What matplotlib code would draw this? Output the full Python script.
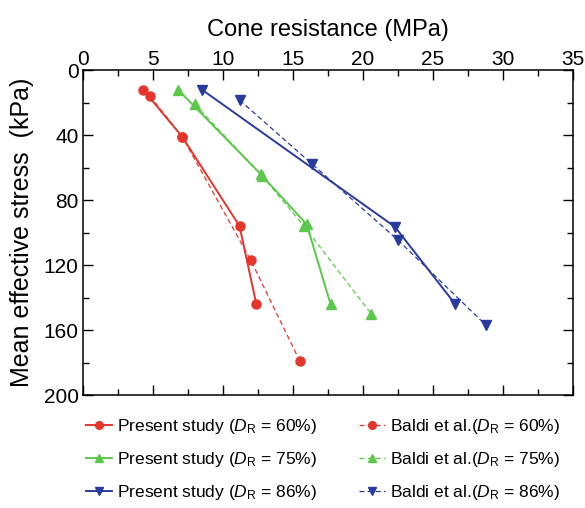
import matplotlib.pyplot as plt
from matplotlib.ticker import MultipleLocator

plt.rcParams['font.family'] = ['Liberation Sans', 'DejaVu Sans']
plt.rcParams['mathtext.fontset'] = 'custom'
plt.rcParams['mathtext.rm'] = 'Liberation Sans'
plt.rcParams['mathtext.it'] = 'Liberation Sans:italic'

# Present study (solid lines)
present_60_q = [4.3, 7.1, 11.2, 12.4]
present_60_p = [12, 41, 96, 144]
present_75_q = [6.8, 12.7, 16.0, 17.7]
present_75_p = [12, 64, 95, 144]
present_86_q = [8.5, 22.3, 26.6]
present_86_p = [12, 96.5, 144]

# Baldi et al. (dashed lines)
baldi_60_q = [4.8, 7.1, 12.0, 15.5]
baldi_60_p = [16, 41, 117, 179]
baldi_75_q = [8.0, 12.8, 15.8, 20.6]
baldi_75_p = [21, 65, 96, 150]
baldi_86_q = [11.2, 16.4, 22.5, 28.8]
baldi_86_p = [18.5, 58, 104.5, 157]

red = '#e5352b'
green = '#5cc84a'
blue = '#2a3b9e'

fig = plt.figure(figsize=(5.85, 5.08), dpi=100)
ax = fig.add_axes([0.1414, 0.2224, 0.8376, 0.6398])

def lab(name, dr):
    return name + r'($\it{D}_{\rm R}$ = ' + dr + '%)'

h1, = ax.plot(present_60_q, present_60_p, '-o', color=red, lw=1.4, ms=6.5,
              label=lab('Present study ', '60'))
h2, = ax.plot(present_75_q, present_75_p, '-^', color=green, lw=1.4, ms=7.5,
              label=lab('Present study ', '75'))
h3, = ax.plot(present_86_q, present_86_p, '-v', color=blue, lw=1.4, ms=7.5,
              label=lab('Present study ', '86'))
h4, = ax.plot(baldi_60_q, baldi_60_p, '--o', color=red, lw=0.9, ms=6.5,
              dashes=(4, 2.5), label=lab('Baldi et al.', '60'))
h5, = ax.plot(baldi_75_q, baldi_75_p, '--^', color=green, lw=0.9, ms=7.5,
              dashes=(4, 2.5), label=lab('Baldi et al.', '75'))
h6, = ax.plot(baldi_86_q, baldi_86_p, '--v', color=blue, lw=0.9, ms=7.5,
              dashes=(4, 2.5), label=lab('Baldi et al.', '86'))

ax.set_xlim(0, 35)
ax.set_ylim(200, 0)
ax.xaxis.set_major_locator(MultipleLocator(5))
ax.xaxis.set_minor_locator(MultipleLocator(2.5))
ax.yaxis.set_major_locator(MultipleLocator(40))
ax.yaxis.set_minor_locator(MultipleLocator(20))
ax.tick_params(which='both', direction='in', top=True, right=True,
               labeltop=True, labelbottom=False, labelsize=15, width=1)
ax.tick_params(which='major', length=7)
ax.tick_params(which='minor', length=4)
ax.tick_params(axis='x', which='major', pad=1)
ax.tick_params(axis='y', which='major', pad=3)
for s in ax.spines.values():
    s.set_linewidth(1.1)

ax.xaxis.set_label_position('top')
ax.set_xlabel('Cone resistance (MPa)', fontsize=17, labelpad=10)
ax.set_ylabel('Mean effective stress  (kPa)', fontsize=18, labelpad=7)

fig.legend(handles=[h1, h2, h3, h4, h5, h6], loc='upper left',
           bbox_to_anchor=(0.135, 0.193), ncol=2, frameon=False,
           fontsize=12.5, handlelength=1.5, handletextpad=0.3,
           columnspacing=2.4, labelspacing=0.8, borderaxespad=0,
           markerscale=0.85)

fig.savefig('out.png', dpi=100)
